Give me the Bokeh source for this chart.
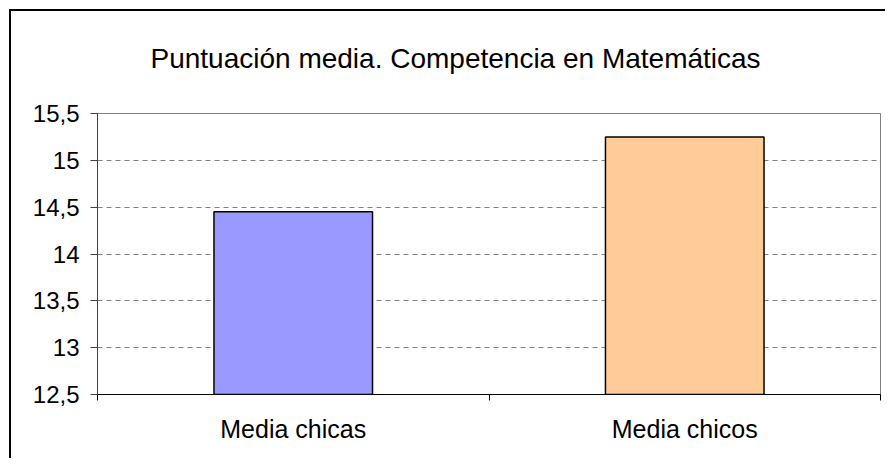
from bokeh.plotting import figure
from bokeh.models import FixedTicker, CustomJSTickFormatter, ColumnDataSource, Range1d
from bokeh.embed import file_html
from bokeh.resources import INLINE

# ---- data ----
categories = ["Media chicas", "Media chicos"]
values = [14.45, 15.25]
colors = ["#9999FF", "#FFCC99"]
y_ticks = [12.5, 13, 13.5, 14, 14.5, 15, 15.5]
y_tick_labels = ["12,5", "13", "13,5", "14", "14,5", "15", "15,5"]
title_text = "Puntuación media. Competencia en Matemáticas"

y_min, y_max = y_ticks[0], y_ticks[-1]
n = len(categories)
xs = [i + 0.5 for i in range(n)]
bounds = [float(i) for i in range(n + 1)]

FONT = "Liberation Sans"
W, H = 885, 458

p = figure(width=W, height=H, output_backend="svg", toolbar_location=None,
           x_range=Range1d(0, n), y_range=Range1d(y_min, y_max),
           min_border_left=97, min_border_right=5, min_border_top=113,
           min_border_bottom=64)

# outer chart border (top/left only visible, as in the reference) drawn by CSS behind a
# transparent canvas
p.border_fill_color = None
p.background_fill_color = "white"
p.styles = {
    "background": "linear-gradient(#000,#000) 9px 9px / 2px 100% no-repeat, "
                  "linear-gradient(#000,#000) 9px 9px / 100% 2px no-repeat, #fff"
}

# title
p.title.text = title_text
p.title.text_font = FONT
p.title.text_font_size = "28px"
p.title.text_font_style = "normal"
p.title.text_color = "black"
p.title.align = "left"
p.title.offset = 53
p.title.standoff = 80

src = ColumnDataSource(dict(x=xs, top=values, color=colors, cat=categories))
p.vbar(x="x", top="top", bottom=y_min, width=0.405, source=src,
       fill_color="color", line_color="black", line_width=1.5)

# frame / grid
p.outline_line_color = "#808080"
p.outline_line_width = 1
p.xgrid.visible = False
p.ygrid.ticker = FixedTicker(ticks=y_ticks)
p.ygrid.grid_line_color = "#808080"
p.ygrid.grid_line_dash = "5 4"
p.ygrid.grid_line_width = 1

JS = """
const i = tv.findIndex(t => Math.abs(t - tick) < 1e-9);
return i >= 0 ? lb[i] : '';
"""

# y axis
ya = p.yaxis[0]
ya.ticker = FixedTicker(ticks=y_ticks)
ya.formatter = CustomJSTickFormatter(args=dict(tv=y_ticks, lb=y_tick_labels), code=JS)
ya.axis_line_color = "#404040"
ya.major_tick_line_color = "#404040"
ya.major_tick_out = 7
ya.major_tick_in = 0
ya.minor_tick_line_color = None
ya.major_label_standoff = 11
ya.major_label_text_font = FONT
ya.major_label_text_font_size = "24px"
ya.major_label_text_color = "black"

# x axis
xa = p.xaxis[0]
xa.ticker = FixedTicker(ticks=xs, minor_ticks=bounds)
xa.formatter = CustomJSTickFormatter(args=dict(tv=xs, lb=categories), code=JS)
xa.axis_line_color = "black"
xa.major_tick_out = 0
xa.major_tick_in = 0
xa.minor_tick_line_color = "black"
xa.minor_tick_out = 6
xa.minor_tick_in = 0
xa.major_label_standoff = 14
xa.major_label_text_font = FONT
xa.major_label_text_font_size = "25px"
xa.major_label_text_color = "black"

open("out.html", "w").write(file_html(p, INLINE))
